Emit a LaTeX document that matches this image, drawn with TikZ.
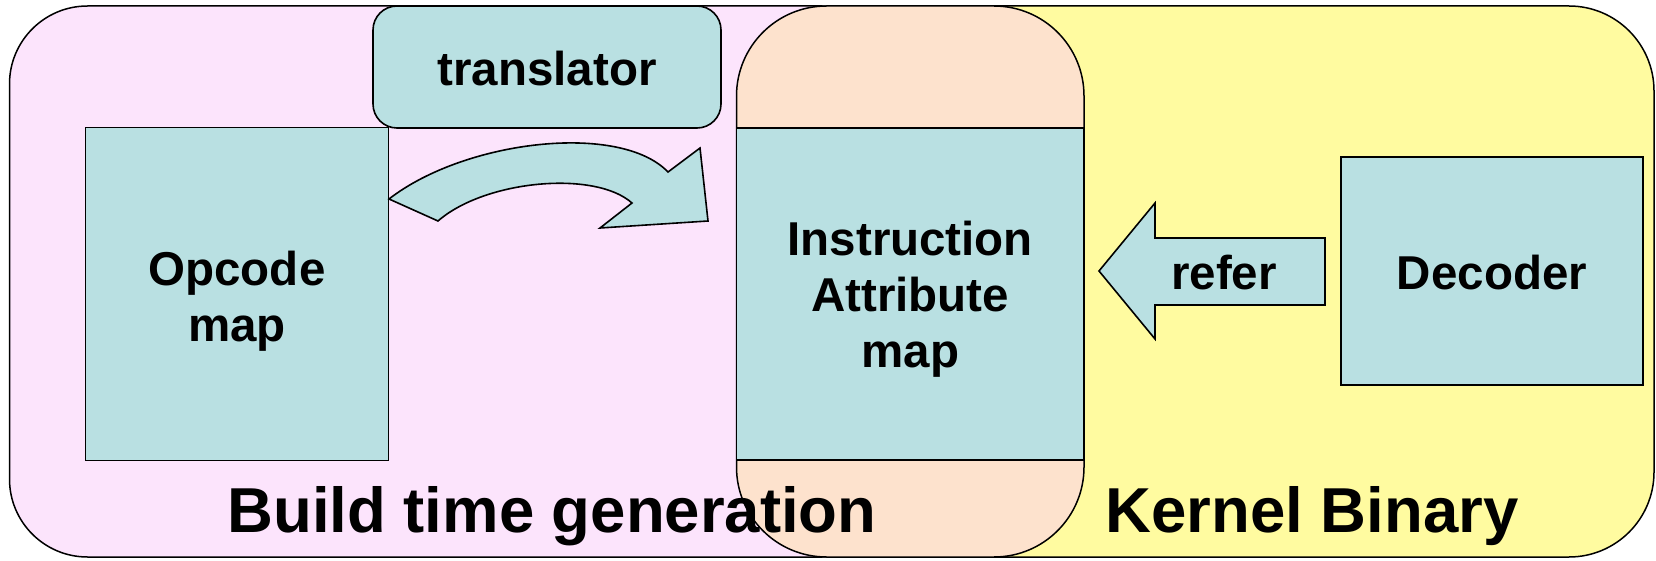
\documentclass[tikz,border=0pt]{standalone}
\usepackage{fontspec}
\setmainfont{Liberation Sans}
\definecolor{pinkbg}{RGB}{252,228,252}
\definecolor{yellowbg}{RGB}{255,251,160}
\definecolor{peachbg}{RGB}{253,226,205}
\definecolor{tealbox}{RGB}{185,224,226}
\tikzset{
  region/.style={draw=black, line width=1.5pt},
  tbox/.style={draw=black, fill=tealbox, line width=1.6pt, inner sep=0pt, outer sep=0pt},
  boxtext/.style={align=center, inner sep=0pt, font=\fontsize{47.5}{56}\selectfont\bfseries},
  blockarrow/.style={draw=black, fill=tealbox, line width=1.6pt, line join=miter},
  bigtext/.style={font=\fontsize{63.5}{70}\selectfont\bfseries, anchor=base, inner sep=0pt},
  smalltext/.style={font=\fontsize{47.5}{56}\selectfont\bfseries, inner sep=0pt}
}
\begin{document}
\begin{tikzpicture}[x=1pt,y=-1pt]
\useasboundingbox (0,0) rectangle (1656,561);
% background regions
\draw[region, fill=pinkbg, rounded corners=78pt] (9.5,6) rectangle (900,557);
\draw[region, fill=yellowbg, rounded corners=85pt] (780,6) rectangle (1654,557);
\draw[region, fill=peachbg, rounded corners=90pt] (736.5,6) rectangle (1084,557);
% boxes
\node[tbox, rounded corners=24pt, minimum width=348pt, minimum height=122pt] (trans) at (547,67) {};
\node[tbox, minimum width=303pt, minimum height=333pt] (opcode) at (237,294) {};
\node[tbox, minimum width=347.5pt, minimum height=332.5pt] (attr) at (910.25,294) {};
\node[tbox, minimum width=302pt, minimum height=228pt] (dec) at (1492,271) {};
% box texts
\node[boxtext, yshift=-2pt] (transtext) at (trans.center) {translator};
\node[boxtext, yshift=-7pt] (opcodetext) at (opcode.center) {Opcode\\map};
\node[boxtext, yshift=-5pt] (attrtext) at (attr.center) {Instruction\\Attribute\\map};
\node[boxtext, yshift=-2pt] (dectext) at (dec.center) {Decoder};
% curved block arrow (translator)
\draw[blockarrow] (389,199) .. controls (465,140) and (620,122) .. (668,172)
  -- (700,148) -- (708,221) -- (600,228) -- (632,203)
  .. controls (595,170) and (485,180) .. (438,221) -- cycle;
% refer block arrow
\draw[blockarrow] (1099,271) -- (1155,203) -- (1155,238) -- (1325,238)
  -- (1325,305) -- (1155,305) -- (1155,339) -- cycle;
\node[smalltext] (refer) at (1224,273) {refer};
% region labels
\node[bigtext] (build) at (552,532) {Build time generation};
\node[bigtext] (kernel) at (1312,532) {Kernel Binary};
\end{tikzpicture}
\end{document}
